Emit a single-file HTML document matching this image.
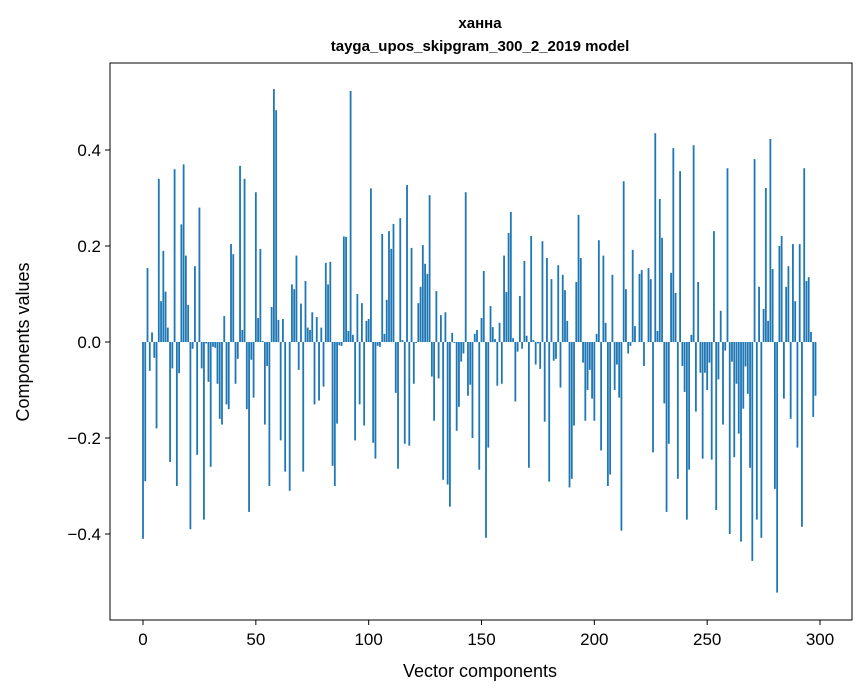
<!DOCTYPE html>
<html><head><meta charset="utf-8"><style>
body{margin:0;background:#fff;}
svg{display:block;font-family:"Liberation Sans",sans-serif;}
</style></head><body>
<svg id="chart" width="867" height="696">
<text x="480" y="28" text-anchor="middle" font-size="15" font-weight="bold">ханна</text>
<text x="480" y="51" text-anchor="middle" font-size="15" font-weight="bold">tayga_upos_skipgram_300_2_2019 model</text>
<g id="bars"></g>
<rect x="110" y="63" width="742" height="557" fill="none" stroke="#000" stroke-width="1"/>
<g id="xticks"></g>
<g id="yticks"></g>
<text x="480" y="677" text-anchor="middle" font-size="18">Vector components</text>
<text x="0" y="0" transform="translate(29,342) rotate(-90)" text-anchor="middle" font-size="18">Components values</text>
</svg>
<script>
const values = [-0.41,-0.29,0.154,-0.06,0.02,-0.033,-0.18,0.34,0.085,0.19,0.105,0.03,-0.25,-0.055,0.36,-0.30,-0.065,0.245,0.37,0.18,0.077,-0.39,-0.014,0.158,-0.235,0.28,-0.055,-0.37,-0.003,-0.083,-0.26,-0.01,-0.012,-0.087,-0.16,-0.172,0.054,-0.13,-0.14,0.204,0.183,-0.087,-0.035,0.367,0.025,0.34,-0.14,-0.354,-0.037,-0.116,0.312,0.05,0.194,0.002,-0.172,-0.05,-0.30,0.073,0.527,0.483,0.046,-0.205,0.048,-0.27,0,-0.31,0.12,0.11,0.18,-0.058,0.08,-0.27,0.127,0.03,0.025,
0.062,-0.13,0.052,-0.122,0.03,-0.093,0.165,0.12,0.167,-0.258,-0.30,-0.17,-0.007,-0.008,0.22,0.219,0.023,0.523,0.015,-0.205,0.10,-0.13,0.081,-0.174,0.044,0.048,0.32,-0.21,-0.243,-0.008,-0.01,0.225,0.017,0.088,0.231,0.194,0.246,-0.106,-0.264,0.258,0.004,-0.212,0.327,-0.216,0.196,-0.087,-0.002,0.081,0.115,0.202,0.163,0.142,0.306,-0.072,-0.164,0.106,-0.076,0.056,-0.287,0.062,-0.297,-0.343,0.019,-0.002,-0.185,-0.135,-0.041,-0.024,0.312,-0.112,-0.089,-0.2,0.017,0.025,
-0.266,0.05,0.148,-0.408,-0.22,0.075,0.031,0.006,-0.091,0.04,-0.087,0.18,0.104,0.227,0.271,0.008,-0.124,-0.02,0.096,-0.014,0.169,0.013,-0.262,0.221,0.004,-0.047,-0.003,-0.056,0.21,-0.166,0.175,-0.291,0.131,-0.039,-0.035,0.16,-0.095,0.14,0.108,0.044,-0.303,-0.285,-0.174,0.125,0.265,0.175,-0.043,-0.164,-0.1,-0.058,-0.118,-0.164,0.017,0.212,-0.226,0.18,0.04,-0.3,-0.276,0.14,-0.1,-0.047,-0.116,-0.393,0.335,0.11,-0.024,-0.008,0.192,0.033,0,0.142,0.15,-0.05,
0,0.154,0.131,-0.23,0.435,0.023,0.298,0.217,-0.128,-0.354,-0.212,0.144,0.404,0.102,-0.285,0.356,-0.05,-0.104,-0.37,-0.266,0.015,0.41,-0.145,0.125,-0.064,-0.243,-0.064,-0.1,-0.043,-0.245,0.231,-0.35,-0.078,0.065,-0.172,-0.018,0.362,-0.4,-0.041,-0.24,-0.087,-0.191,-0.416,-0.139,-0.051,-0.108,-0.262,-0.456,0.381,-0.37,0.115,-0.408,0.069,0.321,0.044,0.423,0.152,-0.306,-0.522,0.2,0.221,-0.118,0.115,0.158,-0.16,0.204,0.085,-0.22,0.204,-0.385,0.362,0.127,0.135,0.021,-0.156,-0.112];
const xTicks = [0,50,100,150,200,250,300];
const yTicks = [-0.4,-0.2,0.0,0.2,0.4];
const yTickLabels = ["\u22120.4","\u22120.2","0.0","0.2","0.4"];

const NS="http://www.w3.org/2000/svg";
function xs(v){return 143+v*2.2567;}
function ys(v){return 342-v*480;}
const gb=document.getElementById('bars');
values.forEach((v,i)=>{
  const r=document.createElementNS(NS,'rect');
  const w=0.8*2.2567;
  r.setAttribute('x',xs(i)-w/2);
  r.setAttribute('y',Math.min(ys(v),ys(0)));
  r.setAttribute('width',w);
  r.setAttribute('height',Math.abs(ys(v)-ys(0)));
  r.setAttribute('fill','#1f77b4');
  
  
  gb.appendChild(r);
});
const gx=document.getElementById('xticks');
xTicks.forEach(t=>{
  const l=document.createElementNS(NS,'line');
  l.setAttribute('x1',xs(t));l.setAttribute('x2',xs(t));
  l.setAttribute('y1',620);l.setAttribute('y2',625);
  l.setAttribute('stroke','#000');
  
  
  gx.appendChild(l);
  const tx=document.createElementNS(NS,'text');
  tx.setAttribute('x',xs(t));tx.setAttribute('y',645);
  tx.setAttribute('text-anchor','middle');tx.setAttribute('font-size','17');
  tx.textContent=t;
  
  
  gx.appendChild(tx);
});
const gy=document.getElementById('yticks');
yTicks.forEach((t,i)=>{
  const l=document.createElementNS(NS,'line');
  l.setAttribute('x1',105);l.setAttribute('x2',110);
  l.setAttribute('y1',ys(t));l.setAttribute('y2',ys(t));
  l.setAttribute('stroke','#000');
  
  
  gy.appendChild(l);
  const tx=document.createElementNS(NS,'text');
  tx.setAttribute('x',101);tx.setAttribute('y',ys(t)+6);
  tx.setAttribute('text-anchor','end');tx.setAttribute('font-size','17');
  tx.textContent=yTickLabels[i];
  
  
  gy.appendChild(tx);
});
</script>
</body></html>
